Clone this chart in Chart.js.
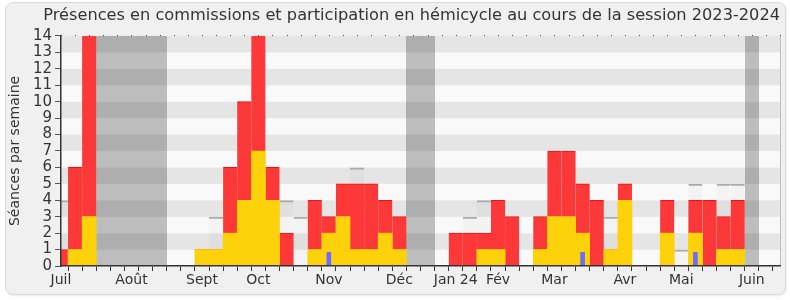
<!DOCTYPE html>
<html lang="fr">
<head>
<meta charset="utf-8">
<script src="https://cdn.jsdelivr.net/npm/chart.js@4.4.1/dist/chart.umd.min.js"></script>
<style>
  html, body { margin: 0; padding: 0; background: #fff; }
  #panel {
    position: absolute; left: 5px; top: 2px; width: 779px; height: 291px;
    background: #f0f0f0; border: 1px solid #dadada; border-radius: 8px;
    box-shadow: 1px 1px 2px rgba(0, 0, 0, 0.08);
  }
  #chart { position: absolute; left: 0; top: 0; }
</style>
</head>
<body>
<div id="panel"></div>
<canvas id="chart" width="790" height="300"></canvas>
<script>
// Semaines de la session (juillet 2023 -> juin 2024)
const nbWeeks = 52;
const monthLabels = ['Juil', 'Août', 'Sept', 'Oct', 'Nov', 'Déc', 'Jan 24', 'Fév', 'Mar', 'Avr', 'Mai', 'Juin'];
const monthWeeks = [0, 5, 10, 14, 19, 24, 28, 31, 35, 40, 44, 49];
const vacationWeeks = [3, 4, 5, 6, 7, 25, 26, 49];
const yTicks = [0, 1, 2, 3, 4, 5, 6, 7, 8, 9, 10, 11, 12, 13, 14];

// Présences en commission (jaune)
const commissions = [0, 1, 3, 0, 0, 0, 0, 0, 0, 0, 1, 1, 2, 4, 7, 4, 0, 0, 1, 2, 3, 1, 1, 2, 1, 0,
                     0, 0, 0, 0, 1, 1, 0, 0, 1, 3, 3, 2, 0, 1, 4, 0, 0, 2, 0, 2, 0, 1, 1, 0, 0, 0];
// Participations en hémicycle (rouge, empilé sur le jaune)
const hemicycle = [1, 5, 12, 0, 0, 0, 0, 0, 0, 0, 0, 0, 4, 6, 8, 2, 2, 0, 3, 1, 2, 4, 4, 2, 2, 0,
                   0, 0, 2, 2, 1, 3, 3, 0, 2, 4, 4, 3, 4, 0, 1, 0, 0, 2, 0, 2, 4, 2, 3, 0, 0, 0];
// Médiane des députés (trait gris)
const medianes = [4, 4, null, null, null, null, null, null, null, null, null, 3, 5, 5, null, null, 4, 3, null, null, 4, 6, 4, 4, null, null,
                  null, null, null, 3, 4, null, null, null, null, 4, 5, 4, 4, 3, null, null, null, null, 1, 5, null, 5, 5, null, null, null];
// Questions orales (bleu)
const questionWeeks = [19, 37, 45];
const questionValues = [0.85, 0.85, 0.85];

const weeks = Array.from({ length: nbWeeks }, (_, i) => i);
const labels = weeks.map(i => {
  const m = monthWeeks.indexOf(i);
  return m >= 0 ? monthLabels[m] : '';
});
const questions = weeks.map(i => {
  const q = questionWeeks.indexOf(i);
  return q >= 0 ? questionValues[q] : null;
});

Chart.defaults.font.family = "'DejaVu Sans', Verdana, sans-serif";
Chart.defaults.color = '#333';

// fond rayé, semaines de vacances, bordure droite, pointillés du haut
const plotBackground = {
  id: 'plotBackground',
  beforeDatasetsDraw(chart) {
    const { ctx, chartArea: a, scales: { x, y } } = chart;
    ctx.save();
    for (let k = 0; k < yTicks.length - 1; k++) {
      const top = y.getPixelForValue(yTicks[k + 1]);
      const bottom = y.getPixelForValue(yTicks[k]);
      ctx.fillStyle = k % 2 ? '#e5e5e5' : '#f9f9f9';
      ctx.fillRect(a.left, top, a.right - a.left, bottom - top);
    }
    // vacances : une bande par suite de semaines
    const half = (x.getPixelForValue(1) - x.getPixelForValue(0)) / 2;
    ctx.fillStyle = 'rgba(0, 0, 0, 0.24)';
    let start = null;
    weeks.forEach(i => {
      const inVac = vacationWeeks.includes(i);
      if (inVac && start === null) start = i;
      if (start !== null && (!inVac || i === nbWeeks - 1)) {
        const end = inVac ? i : i - 1;
        const x0 = Math.max(a.left, Math.round(x.getPixelForValue(start) - half));
        const x1 = Math.min(a.right, Math.round(x.getPixelForValue(end) + half));
        ctx.fillRect(x0, a.top, x1 - x0, a.bottom - a.top);
        start = null;
      }
    });
    ctx.restore();
  },
  afterDatasetsDraw(chart) {
    const { ctx, chartArea: a, scales: { x } } = chart;
    ctx.save();
    ctx.strokeStyle = '#bdbdbd';
    ctx.lineWidth = 1;
    ctx.beginPath();
    ctx.moveTo(Math.round(a.right) + 0.5, a.top);
    ctx.lineTo(Math.round(a.right) + 0.5, a.bottom);
    ctx.stroke();
    ctx.fillStyle = '#444';
    for (let i = 0; i < x.ticks.length; i++) {
      ctx.fillRect(Math.round(x.getPixelForTick(i)), Math.round(a.top) - 1, 1, 1);
    }
    ctx.restore();
  }
};

const ctx = document.getElementById('chart').getContext('2d');
new Chart(ctx, {
  type: 'bar',
  data: {
    labels: labels,
    datasets: [
      {
        label: 'Médiane',
        data: medianes,
        backgroundColor: 'rgba(0, 0, 0, 0.025)',
        borderColor: '#aaaaaa',
        borderWidth: { top: 2, right: 0, bottom: 0, left: 0 },
        borderSkipped: false,
        inflateAmount: 0,
        stack: 'med',
        order: 4
      },
      {
        label: 'Présences en commission',
        data: commissions,
        backgroundColor: 'rgb(253, 210, 10)',
        stack: 'main',
        order: 1
      },
      {
        label: 'Participations en hémicycle',
        data: hemicycle,
        backgroundColor: 'rgb(252, 56, 56)',
        borderColor: 'rgb(236, 18, 18)',
        borderWidth: { top: 1, right: 0, bottom: 0, left: 0 },
        borderSkipped: false,
        stack: 'main',
        order: 2
      },
      {
        label: 'Questions orales',
        data: questions,
        backgroundColor: 'rgb(107, 107, 255)',
        barPercentage: 0.33,
        stack: 'q',
        order: 0
      }
    ]
  },
  options: {
    responsive: false,
    animation: false,
    datasets: {
      bar: {
        grouped: false,
        barPercentage: 1,
        categoryPercentage: 1
      }
    },
    layout: { padding: { left: 0, right: 10, top: 0, bottom: 0 } },
    plugins: {
      legend: { display: false },
      tooltip: { enabled: false },
      title: {
        display: true,
        text: 'Présences en commissions et participation en hémicycle au cours de la session 2023-2024',
        align: 'end',
        fullSize: true,
        color: '#333',
        font: { size: 16.2, weight: 'normal' },
        padding: { top: 6, bottom: 10.5 }
      }
    },
    scales: {
      x: {
        offset: false,
        grid: { drawOnChartArea: false, drawTicks: true, tickLength: 5, color: '#333' },
        border: { display: true, color: '#333', width: 1.5, z: 1 },
        ticks: { autoSkip: false, maxRotation: 0, padding: 1, font: { size: 14 }, color: '#333' },
        afterFit(scale) { scale.height = 34; }
      },
      y: {
        stacked: true,
        min: 0,
        max: 14,
        grid: { drawOnChartArea: false, drawTicks: true, tickLength: 6, color: '#555' },
        border: { display: true, color: '#333', width: 1.5, z: 1 },
        ticks: { stepSize: 1, autoSkip: false, padding: 3, font: { size: 15 }, color: '#333' },
        title: {
          display: true,
          text: 'Séances par semaine',
          color: '#333',
          font: { size: 14 },
          padding: { top: 7, bottom: 0 }
        },
        afterFit(scale) { scale.width = 61; }
      }
    }
  },
  plugins: [plotBackground]
});
</script>
</body>
</html>
